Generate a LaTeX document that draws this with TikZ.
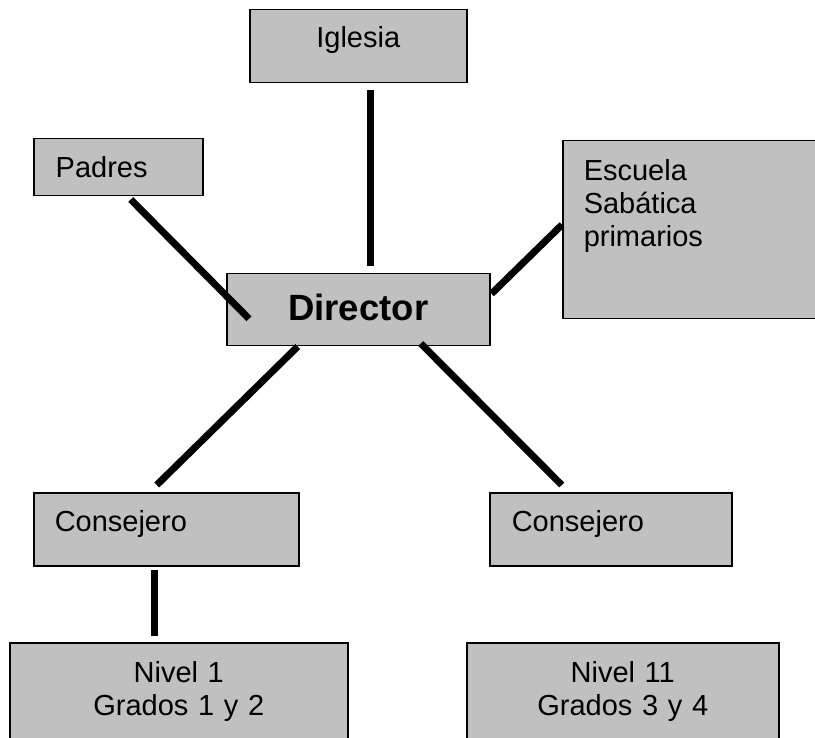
\documentclass[tikz,border=0pt]{standalone}
\usepackage{fontspec}
\setmainfont{Liberation Sans}
\usetikzlibrary{positioning}
\definecolor{boxgray}{HTML}{C0C0C0}

\begin{document}
\begin{tikzpicture}[x=1pt, y=-1pt,
    box/.style={rectangle, draw=black, line width=1.5pt, fill=boxgray, anchor=north west, inner sep=0pt, font=\fontsize{29}{33}\selectfont, text height=21pt},
    link/.style={line width=7pt}]
    \useasboundingbox (0,0) rectangle (815,738);

    \node (iglesia) [box, minimum width=217pt, minimum height=73pt, text depth=18pt] at (249,9) {Iglesia};
    \node (padres) [box, inner xsep=22pt, text width=125pt, align=left, minimum height=57pt, text depth=0pt] at (33,138) {Padres};
    \node (escuela) [box, inner xsep=21pt, text width=213pt, align=left, minimum height=178pt, text depth=119pt] at (562,140) {Escuela\\Sabática\\primarios};
    \node (director) [box, minimum width=263pt, minimum height=72pt, font=\fontsize{36.5}{40}\selectfont\bfseries, text height=27pt, text depth=5pt] at (226,273) {Director};

    \node (consejero1) [box, inner xsep=21pt, text width=223pt, align=left, minimum height=73pt, text depth=16pt] at (33,492) {Consejero};
    \node (consejero2) [box, inner xsep=22pt, text width=198pt, align=left, minimum height=73pt, text depth=16pt] at (489,492) {Consejero};

    \node (nivel1) [box, text width=338pt, align=center, minimum height=96pt, text depth=37pt] at (9,642) {Nivel 1\\Grados 1 y 2};
    \node (nivel11) [box, text width=312pt, align=center, minimum height=96pt, text depth=37pt] at (466,642) {Nivel 11\\Grados 3 y 4};

    \draw [link] ([xshift=12.5pt, yshift=-7pt]iglesia.south) -- ([xshift=12.5pt, yshift=7pt]director.north);
    \draw [link] ([xshift=12.5pt, yshift=-3pt]padres.south) -- ([xshift=23pt, yshift=-9pt]director.west);
    \draw [link] ([yshift=5pt]escuela.west) -- ([xshift=1pt, yshift=16pt]director.east);
    \draw [link] ([xshift=-60.5pt]director.south) -- ([xshift=-9.5pt, yshift=7pt]consejero1.north);
    \draw [link] ([xshift=62.5pt, yshift=3pt]director.south) -- ([xshift=-49pt, yshift=7pt]consejero2.north);
    \draw [link] ([xshift=-11.5pt, yshift=-3pt]consejero1.south) -- ([xshift=-24pt, yshift=6pt]nivel1.north);
\end{tikzpicture}
\end{document}
